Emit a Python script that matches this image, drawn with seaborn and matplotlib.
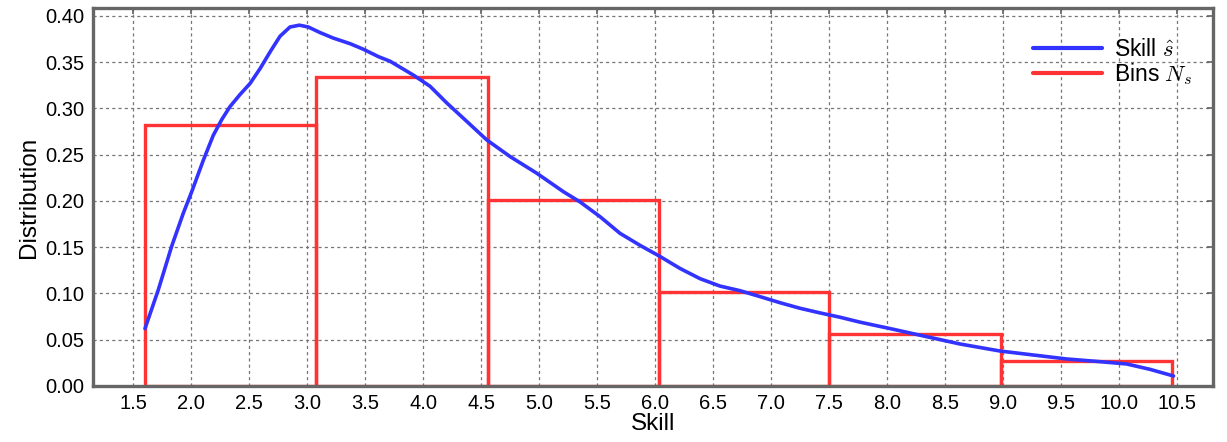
import matplotlib
matplotlib.use("Agg")
import matplotlib.pyplot as plt
import seaborn as sns
import pandas as pd

# Skill density curve
skill_x = [1.603, 1.718, 1.833, 1.934, 2.006, 2.106, 2.192, 2.265, 2.336, 2.422,
           2.509, 2.595, 2.681, 2.767, 2.853, 2.934, 3.011, 3.112, 3.227, 3.371,
           3.485, 3.615, 3.716, 3.917, 4.060, 4.204, 4.377, 4.549, 4.750, 4.980,
           5.210, 5.353, 5.526, 5.698, 5.871, 6.043, 6.216, 6.388, 6.560, 6.733,
           6.905, 7.078, 7.250, 7.422, 7.595, 7.767, 8.054, 8.342, 8.629, 8.974,
           9.261, 9.549, 9.836, 10.066, 10.267, 10.47]
skill_y = [0.062, 0.104, 0.151, 0.187, 0.210, 0.244, 0.271, 0.288, 0.302, 0.315,
           0.327, 0.343, 0.361, 0.378, 0.388, 0.390, 0.388, 0.382, 0.376, 0.370,
           0.364, 0.356, 0.351, 0.336, 0.324, 0.306, 0.286, 0.266, 0.248, 0.230,
           0.210, 0.199, 0.183, 0.165, 0.152, 0.140, 0.127, 0.116, 0.108, 0.103,
           0.0966, 0.090, 0.084, 0.079, 0.0743, 0.0690, 0.0613, 0.0533, 0.0454,
           0.0378, 0.0335, 0.0292, 0.0263, 0.0238, 0.018, 0.0108]

# Bins
bin_edges = [1.60, 3.08, 4.56, 6.03, 7.50, 8.98, 10.46]
bin_heights = [0.282, 0.334, 0.201, 0.102, 0.056, 0.0274]

xticks = [1.5, 2.0, 2.5, 3.0, 3.5, 4.0, 4.5, 5.0, 5.5, 6.0, 6.5, 7.0, 7.5, 8.0, 8.5,
          9.0, 9.5, 10.0, 10.5]
yticks = [0.00, 0.05, 0.10, 0.15, 0.20, 0.25, 0.30, 0.35, 0.40]

sns.set_theme(style="white")
plt.rcParams['font.family'] = ['Liberation Sans', 'DejaVu Sans']
plt.rcParams['mathtext.fontset'] = 'cm'
plt.rcParams['text.color'] = 'black'
plt.rcParams['axes.labelcolor'] = 'black'
plt.rcParams['xtick.color'] = 'black'
plt.rcParams['ytick.color'] = 'black'

fig = plt.figure(figsize=(12.27, 4.42), dpi=100)
ax = fig.add_axes([0.0758, 0.1267, 0.9128, 0.8553])

centers = [(bin_edges[i] + bin_edges[i + 1]) / 2 for i in range(len(bin_heights))]
sns.histplot(x=centers, weights=bin_heights, bins=bin_edges, element="bars",
             fill=False, color="#ff3333", linewidth=2.4, ax=ax, zorder=3)

df = pd.DataFrame({"x": skill_x, "y": skill_y})
sns.lineplot(data=df, x="x", y="y", color="#3333ff", linewidth=2.6, ax=ax,
             zorder=4, sort=True)

ax.plot([], [], color="#3333ff", linewidth=3, label=r"Skill $\hat{s}$")
ax.plot([], [], color="#ff3333", linewidth=3, label=r"Bins $N_s$")

ax.set_xlim(1.155, 10.81)
ax.set_ylim(0, 0.4086)
ax.set_xticks(xticks)
ax.set_xticklabels([f"{t:.1f}" for t in xticks])
ax.set_yticks(yticks)
ax.set_yticklabels([f"{t:.2f}" for t in yticks])
ax.grid(True, linestyle=(0, (2.5, 2.5)), color="#777777", linewidth=0.9)
ax.set_axisbelow(True)
for s in ax.spines.values():
    s.set_color("#666666")
    s.set_linewidth(2.4)
    s.set_zorder(6)
ax.tick_params(axis="both", direction="in", length=4, labelsize=14.5,
               top=True, right=True, pad=6)
ax.tick_params(axis="both", which="both", color="#666666")
ax.set_xlabel("Skill", fontsize=17.5, labelpad=0)
ax.set_ylabel("Distribution", fontsize=17.5, labelpad=4)

leg = ax.legend(loc="upper right", frameon=False, fontsize=16.5, handlelength=3.0,
                bbox_to_anchor=(1.0, 0.975), labelspacing=0.0, handletextpad=0.55)

fig.savefig("out.png", dpi=100)
